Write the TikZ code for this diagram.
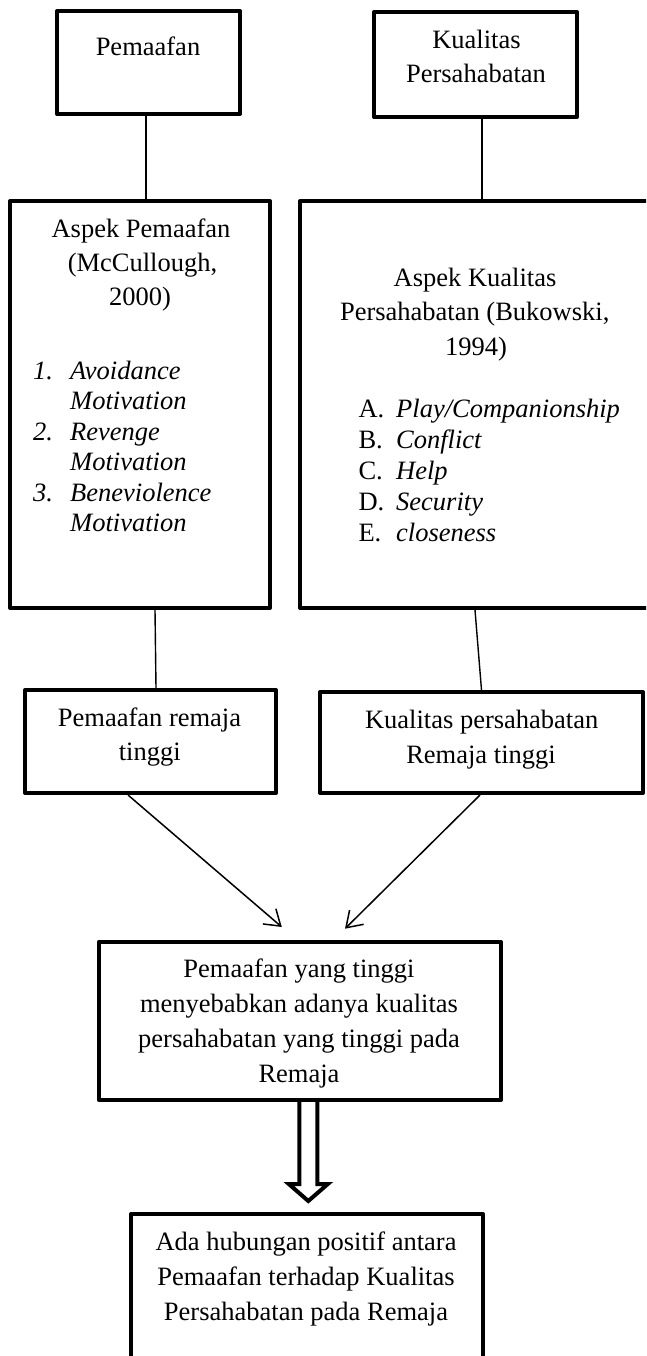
\documentclass[tikz,border=0pt]{standalone}
\usepackage{fontspec}
\setmainfont{Liberation Serif}
\usetikzlibrary{arrows.meta,calc}
\tikzset{
  box/.style={draw, line width=4pt, line join=round, inner sep=0pt},
  txt/.style={inner sep=0pt, anchor=base, font=\fontsize{26.5}{32}\selectfont},
  ltxt/.style={txt, anchor=base west},
  thin/.style={line width=1.4pt},
  arr/.style={line width=1.5pt, -{Straight Barb[length=15pt,width=20pt]}},
  bigarr/.style={line width=4pt, line join=miter}
}
\begin{document}
\begin{tikzpicture}[x=1pt,y=-1pt]
\useasboundingbox (0,0) rectangle (646,1356);
\clip (0,0) rectangle (646,1356);

% boxes
\node[box, minimum width=183pt, minimum height=103pt] (b1) at (148.5,62.5) {};
\node[box, minimum width=203pt, minimum height=105pt] (b2) at (475.5,64.5) {};
\node[box, minimum width=260pt, minimum height=407pt] (b3) at (140,404.5) {};
\node[box, minimum width=350pt, minimum height=407pt] (b4) at (475,404.5) {};
\node[box, minimum width=251pt, minimum height=103pt] (b5) at (150.5,741.5) {};
\node[box, minimum width=323pt, minimum height=101pt] (b6) at (481.5,742.5) {};
\node[box, minimum width=402pt, minimum height=158pt] (b7) at (299.8,1021) {};
\node[box, minimum width=352pt, minimum height=156pt] (b8) at (307,1292) {};

% texts
\node[txt] (t1) at (148,56) {Pemaafan};
\node[txt] (t2a) at (476.5,49) {Kualitas};
\node[txt] (t2b) at (476,83) {Persahabatan};

\node[txt] (t3a) at (141,238) {Aspek Pemaafan};
\node[txt] (t3b) at (142.5,271.5) {(McCullough,};
\node[txt] (t3c) at (140,305) {2000)};
\node[ltxt] (n1) at (33,379) {\itshape 1.};
\node[ltxt] (i1a) at (70,379) {\itshape Avoidance};
\node[ltxt] (i1b) at (70,409) {\itshape Motivation};
\node[ltxt] (n2) at (33,440) {\itshape 2.};
\node[ltxt] (i2a) at (70,440) {\itshape Revenge};
\node[ltxt] (i2b) at (70,470) {\itshape Motivation};
\node[ltxt] (n3) at (33,501) {\itshape 3.};
\node[ltxt] (i3a) at (70,501) {\itshape Beneviolence};
\node[ltxt] (i3b) at (70,531) {\itshape Motivation};

\node[txt] (t4a) at (475,286) {Aspek Kualitas};
\node[txt] (t4b) at (474.7,320) {Persahabatan (Bukowski,};
\node[txt] (t4c) at (476,355) {1994)};
\node[ltxt] (la) at (358.3,417) {A.};
\node[ltxt] (ja) at (396,417) {\itshape Play/Companionship};
\node[ltxt] (lb) at (358.3,448) {B.};
\node[ltxt] (jb) at (396,448) {\itshape Conflict};
\node[ltxt] (lc) at (358.3,479) {C.};
\node[ltxt] (jc) at (396,479) {\itshape Help};
\node[ltxt] (ld) at (358.3,510) {D.};
\node[ltxt] (jd) at (396,510) {\itshape Security};
\node[ltxt] (le) at (358.3,541) {E.};
\node[ltxt] (je) at (396,541) {\itshape closeness};

\node[txt] (t5a) at (149.5,726) {Pemaafan remaja};
\node[txt] (t5b) at (149.7,760) {tinggi};
\node[txt] (t6a) at (481.7,728) {Kualitas persahabatan};
\node[txt] (t6b) at (481,763) {Remaja tinggi};

\node[txt] (t7a) at (299,977) {Pemaafan yang tinggi};
\node[txt] (t7b) at (299,1012) {menyebabkan adanya kualitas};
\node[txt] (t7c) at (299,1047) {persahabatan yang tinggi pada};
\node[txt] (t7d) at (299,1082) {Remaja};

\node[txt] (t8a) at (306,1250) {Ada hubungan positif antara};
\node[txt] (t8b) at (306,1285) {Pemaafan terhadap Kualitas};
\node[txt] (t8c) at (306,1320) {Persahabatan pada Remaja};

% connectors
\draw[thin] ($(b1.south)+(-2.5,0)$) -- ($(b1.south |- b3.north)+(-2.5,0)$);
\draw[thin] ($(b2.south)+(6.5,0)$) -- ($(b2.south |- b4.north)+(6.5,0)$);
\draw[thin] ($(b3.south)+(15,0)$) -- ($(b5.north)+(5.5,0)$);
\draw[thin] (b4.south) -- (b6.north);
\draw[arr] ($(b5.south)+(-22.5,0)$) -- ($(b7.north)+(-18,-13)$);
\draw[arr] ($(b6.south)+(-1.5,0)$) -- ($(b7.north)+(45.2,-11.3)$);

% block arrow
\coordinate (da) at ($(b7.south)+(8.5,0)$);
\draw[bigarr] ($(da)+(-9,0)$) -- ($(da)+(-9,82)$) -- ($(da)+(-19.5,82)$)
  -- ($(da)+(0,99)$) -- ($(da)+(19.5,82)$) -- ($(da)+(9,82)$) -- ($(da)+(9,0)$);
\end{tikzpicture}
\end{document}
